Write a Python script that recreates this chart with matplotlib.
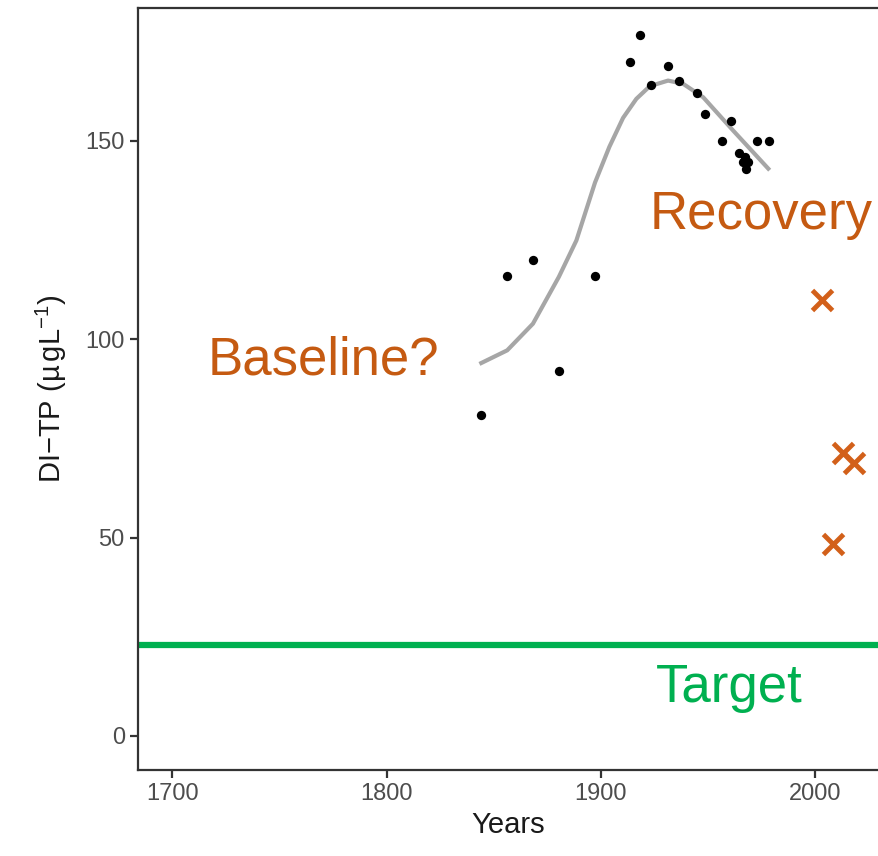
import numpy as np
import matplotlib.pyplot as plt

plt.rcParams['font.family'] = ['Liberation Sans', 'DejaVu Sans']
plt.rcParams['mathtext.fontset'] = 'custom'
plt.rcParams['mathtext.rm'] = 'Liberation Sans'
plt.rcParams['mathtext.it'] = 'Liberation Sans:italic'

# core samples (black dots)
years = [1844.2, 1856.3, 1868.3, 1880.4, 1897.3, 1913.5, 1918.5, 1923.3, 1931.4,
         1936.6, 1944.7, 1948.6, 1956.7, 1960.8, 1964.6, 1966.2, 1967.3, 1967.6,
         1968.6, 1972.8, 1978.7]
ditp = [81.0, 115.9, 119.9, 91.9, 115.9, 169.8, 176.8, 164.2, 168.8,
        165.2, 162.0, 156.7, 149.9, 154.9, 146.9, 144.8, 145.9, 142.9,
        144.8, 149.9, 149.9]

# smoother (grey line)
smooth_years = [1844.2, 1856.3, 1868.3, 1880.4, 1888.6, 1897.3, 1904.0, 1910.4, 1916.6,
                1922.9, 1931.4, 1938.4, 1947.8, 1961.8, 1978.2]
smooth_vals = [94.0, 97.2, 103.9, 115.7, 124.9, 139.5, 148.5, 155.8, 160.6,
               163.8, 165.2, 164.4, 161.0, 152.6, 143.0]

# recent measurements (orange crosses)
recent_years = [2003.5, 2008.3, 2013.3, 2018.3]
recent_tp = [110.0, 48.5, 71.4, 68.7]

target = 23

orange = '#C55A11'
green = '#00B050'

fig = plt.figure(figsize=(8.79, 8.56), dpi=100)
ax = fig.add_axes([138 / 879, 86 / 856, 741 / 879, 762 / 856])

ax.axhline(target, color=green, lw=4.5, zorder=1)
ax.plot(smooth_years, smooth_vals, color='#A6A6A6', lw=3, zorder=2)
ax.scatter(years, ditp, s=45, color='black', zorder=3, linewidths=0)
ax.scatter(recent_years, recent_tp, marker='x', s=210, color='#D2601A',
           linewidths=3.5, zorder=3)

ax.text(1974.8, 131.2, 'Recovery', color=orange, fontsize=38, ha='center', va='center')
ax.text(1770.4, 94.7, 'Baseline?', color=orange, fontsize=38, ha='center', va='center')
ax.text(1959.8, 12.1, 'Target', color=green, fontsize=38, ha='center', va='center')

ax.set_xlim(1683.9, 2029.9)
ax.set_ylim(-8.6, 183.5)
ax.set_xticks([1700, 1800, 1900, 2000])
ax.set_yticks([0, 50, 100, 150])

for s in ['left', 'bottom', 'top']:
    ax.spines[s].set_color('#333333')
    ax.spines[s].set_linewidth(1.6)
ax.spines['right'].set_visible(False)
ax.tick_params(length=6, width=1.6, color='#333333', labelsize=17,
               labelcolor='#4D4D4D')

ax.set_xlabel('Years', fontsize=21, color='#1a1a1a', labelpad=4)
ax.set_ylabel('DI\u2212TP $(\\mathrm{\u00b5\\,gL}^{-1})$', fontsize=21, color='#1a1a1a', labelpad=12)

fig.savefig('out.png', dpi=100)
